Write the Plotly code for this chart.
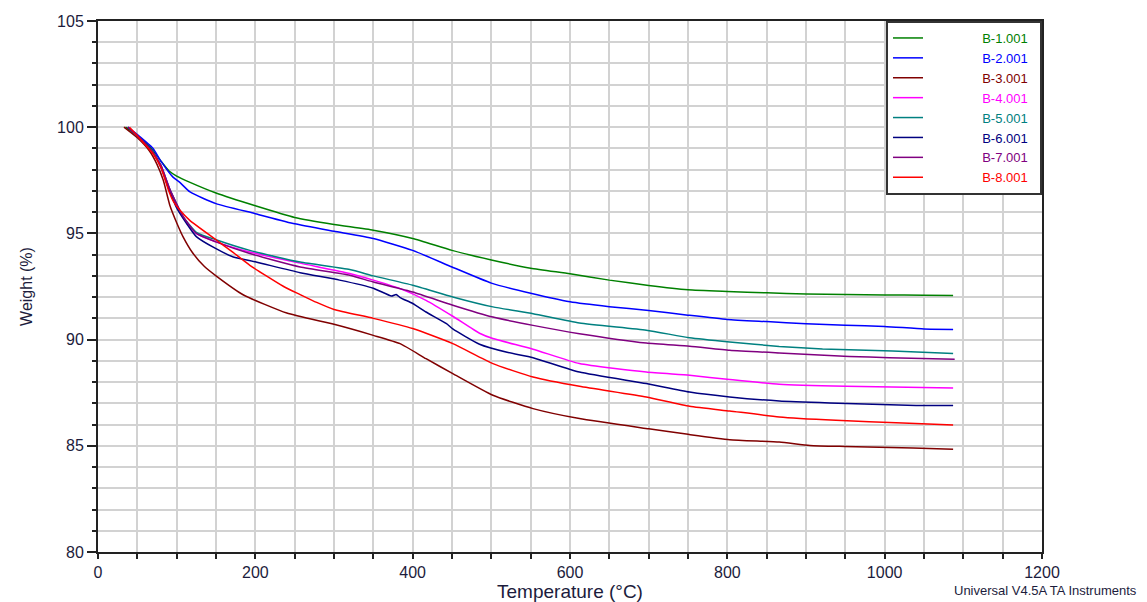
import plotly.graph_objects as go

# ---- data ----
names = ["B-1.001", "B-2.001", "B-3.001", "B-4.001", "B-5.001", "B-6.001", "B-7.001", "B-8.001"]
colors = ["#008000", "#0000FF", "#800000", "#FF00FF", "#008080", "#000080", "#800080", "#FF0000"]

t1 = [35, 50, 70, 80, 90, 100, 117, 150, 200, 250, 300, 350, 400, 450, 500, 550, 600, 650, 700, 750, 800, 850, 900, 950, 1000, 1050, 1087]
w1 = [100, 99.6, 98.9, 98.4, 97.95, 97.7, 97.4, 96.9, 96.3, 95.75, 95.42, 95.15, 94.76, 94.2, 93.75, 93.36, 93.1, 92.8, 92.55, 92.35, 92.27, 92.2, 92.15, 92.12, 92.1, 92.09, 92.08]

t2 = [38, 50, 70, 80, 95, 104, 117, 150, 200, 250, 300, 350, 400, 450, 500, 550, 600, 650, 700, 750, 800, 850, 900, 950, 1000, 1050, 1087]
w2 = [100, 99.65, 99.0, 98.4, 97.66, 97.4, 96.95, 96.4, 95.93, 95.45, 95.1, 94.76, 94.2, 93.42, 92.66, 92.18, 91.78, 91.55, 91.37, 91.15, 90.95, 90.85, 90.75, 90.68, 90.62, 90.5, 90.48]

t3 = [33, 50, 65, 75, 83, 91.5, 100, 108, 120, 135, 150, 185, 240, 300, 350, 384, 417, 451, 502, 553, 612, 700, 750, 803, 866, 905, 950, 1036, 1087]
w3 = [100, 99.5, 98.9, 98.25, 97.5, 96.3, 95.5, 94.85, 94.1, 93.45, 93.0, 92.1, 91.25, 90.72, 90.2, 89.81, 89.1, 88.4, 87.38, 86.75, 86.28, 85.8, 85.54, 85.29, 85.18, 85.02, 84.97, 84.9, 84.84]

t4 = [38, 50, 70, 80, 91, 108, 125, 150, 193, 257, 320, 350, 384, 417, 451, 485, 502, 553, 612, 697, 752, 803, 866, 951, 1087]
w4 = [100, 99.6, 98.8, 98.2, 97.1, 95.8, 95.0, 94.6, 94.12, 93.6, 93.11, 92.8, 92.4, 91.85, 91.1, 90.3, 90.05, 89.55, 88.87, 88.47, 88.32, 88.12, 87.9, 87.8, 87.72]

t5 = [38, 50, 70, 80, 91, 108, 125, 150, 193, 257, 320, 350, 400, 451, 502, 553, 612, 697, 752, 803, 866, 921, 1010, 1087]
w5 = [100, 99.6, 98.8, 98.2, 97.1, 95.8, 95.05, 94.7, 94.2, 93.65, 93.3, 93.0, 92.56, 92.01, 91.54, 91.22, 90.78, 90.44, 90.09, 89.89, 89.68, 89.56, 89.46, 89.35]

t6 = [38, 50, 70, 80, 91, 100, 112, 125, 150, 172, 201, 257, 307, 350, 373, 379, 384, 400, 417, 443, 451, 485, 520, 553, 612, 697, 752, 803, 866, 930, 1040, 1087]
w6 = [100, 99.6, 98.8, 98.1, 97.0, 96.2, 95.5, 94.85, 94.28, 93.89, 93.65, 93.15, 92.8, 92.42, 92.05, 92.12, 91.98, 91.7, 91.3, 90.75, 90.5, 89.78, 89.4, 89.15, 88.47, 87.93, 87.53, 87.3, 87.11, 87.02, 86.9, 86.9]

t7 = [38, 50, 70, 80, 91, 108, 125, 150, 193, 257, 320, 350, 400, 451, 502, 553, 612, 697, 752, 803, 866, 955, 1006, 1089]
w7 = [100, 99.6, 98.8, 98.2, 97.1, 95.8, 95.0, 94.6, 94.05, 93.42, 93.03, 92.71, 92.24, 91.62, 91.06, 90.67, 90.28, 89.84, 89.69, 89.5, 89.37, 89.21, 89.15, 89.07]

t8 = [40, 50, 70, 80, 90, 96, 104, 117, 150, 170, 193, 236, 257, 278, 300, 350, 400, 451, 502, 553, 612, 697, 752, 803, 866, 938, 1023, 1087]
w8 = [100, 99.6, 98.75, 98.1, 97.0, 96.5, 96.1, 95.6, 94.7, 94.15, 93.5, 92.5, 92.12, 91.75, 91.42, 91.0, 90.52, 89.81, 88.87, 88.24, 87.8, 87.3, 86.86, 86.64, 86.36, 86.2, 86.07, 85.98]

temps = [t1, t2, t3, t4, t5, t6, t7, t8]
weights = [w1, w2, w3, w4, w5, w6, w7, w8]

x_ticks = [0, 200, 400, 600, 800, 1000, 1200]
y_ticks = [80, 85, 90, 95, 100, 105]

FONT = "Arial, 'Liberation Sans', sans-serif"
TXT = "#1c1c3c"

fig = go.Figure()
pad = "\u00a0" * 15
for name, col, t, w in zip(names, colors, temps, weights):
    fig.add_trace(go.Scatter(
        x=t, y=w, mode="lines",
        line=dict(color=col, width=1.5, shape="spline", smoothing=0.5),
        name=f'{pad}<span style="color:{col}">{name}</span>\u00a0\u00a0',
    ))

grid = "#d2d2d2"
fig.update_layout(
    # the page body adds an 8px margin, so the figure is sized to fit the window
    width=1139, height=594,
    margin=dict(l=90, r=105, t=13, b=50),
    paper_bgcolor="white", plot_bgcolor="white",
    font=dict(family=FONT, color=TXT, size=15),
    showlegend=True,
    legend=dict(
        x=1, y=1, xanchor="right", yanchor="top",
        bgcolor="white", bordercolor="#333333", borderwidth=2,
        font=dict(family=FONT, size=13),
        tracegroupgap=0,
    ),
    xaxis=dict(
        range=[0, 1200], tickvals=x_ticks, ticktext=[str(v) for v in x_ticks],
        automargin=False,
        showgrid=True, gridcolor=grid, gridwidth=1.5,
        showline=True, linecolor="#222222", linewidth=2, mirror=True,
        ticks="outside", ticklen=5, tickcolor="#222222", tickwidth=1.5,
        minor=dict(dtick=50, tick0=0, showgrid=True, gridcolor=grid, gridwidth=1.5,
                   ticks="outside", ticklen=5, tickcolor="#222222", tickwidth=1.5),
        tickfont=dict(size=16, color=TXT),
        title=dict(text="Temperature (°C)", font=dict(size=19, color=TXT), standoff=4),
        zeroline=False,
    ),
    yaxis=dict(
        range=[80, 105], tickvals=y_ticks, ticktext=[str(v) for v in y_ticks],
        automargin=False,
        showgrid=True, gridcolor=grid, gridwidth=1.5,
        showline=True, linecolor="#222222", linewidth=2, mirror=True,
        ticks="outside", ticklen=9, tickcolor="#222222", tickwidth=1.5,
        minor=dict(dtick=1, tick0=80, showgrid=True, gridcolor=grid, gridwidth=1.5,
                   ticks="outside", ticklen=4, tickcolor="#222222", tickwidth=1.5),
        tickfont=dict(size=16, color=TXT),
        title=dict(text="Weight (%)", font=dict(size=16, color=TXT), standoff=20),
        zeroline=False,
    ),
    annotations=[dict(
        text="Universal V4.5A TA Instruments", xref="paper", yref="paper",
        x=1.103, y=-0.072, xanchor="right", yanchor="middle", showarrow=False,
        font=dict(family=FONT, size=13, color=TXT),
    )],
)

fig.write_html("out.html")
